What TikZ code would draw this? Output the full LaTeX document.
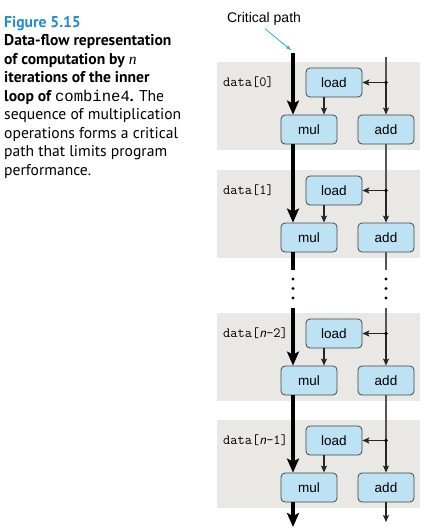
\documentclass[tikz,border=0pt]{standalone}
\usepackage{fontspec}
\setmainfont{Liberation Sans}
\newfontfamily\capfont{PT Sans}
\newfontfamily\codefont{Liberation Mono}
\newfontfamily\serifit{Liberation Serif}
\usetikzlibrary{arrows.meta}
\definecolor{figblue}{RGB}{30,140,205}
\definecolor{cpcyan}{RGB}{40,170,225}
\definecolor{boxfill}{RGB}{188,226,243}
\definecolor{boxline}{RGB}{70,70,70}
\definecolor{panelgray}{RGB}{234,232,229}
\definecolor{thingray}{RGB}{85,85,85}
\newcommand\iterblock[3]{%
  \fill[panelgray] (217,#2) rectangle (420,#2+88);
  \node[opbox] (load#1) at (334,#2+20.5) {load};
  \node[opbox] (mul#1) at (309,#2+67.5) {mul};
  \node[opbox] (add#1) at (386,#2+67.5) {add};
  \coordinate (dot#1) at (386,#2+20.5);
  \node[datalabel] (data#1) at (223,#2+24) {#3};
}
\begin{document}
\begin{tikzpicture}[x=1pt,y=-1pt,
  opbox/.style={draw=boxline, fill=boxfill, line width=0.8pt, rounded corners=4pt,
    minimum width=56pt, minimum height=29pt, inner sep=0pt,
    font=\fontsize{13.5}{16}\selectfont},
  datalabel/.style={anchor=base west, inner sep=0pt, font=\ttfamily\fontsize{14}{16}\selectfont},
  critline/.style={line width=3.6pt, draw=black},
  crit/.style={critline, -{Stealth[length=14pt,width=12pt,inset=3pt]}},
  thinline/.style={line width=1.1pt, draw=thingray},
  thinarr/.style={line width=1.1pt, draw=black!85, -{Stealth[length=7pt,width=6pt,inset=1.5pt]}},
  junction/.style={fill=black, circle, inner sep=0pt, minimum size=3.6pt},
  ]
\useasboundingbox (0,0) rectangle (434,528);

% caption
\node[anchor=north west, align=left, inner sep=0pt,
  font=\capfont\fontsize{15.6}{18.5}\selectfont] (caption) at (4,16)
 {{\color{figblue}\bfseries Figure 5.15}\\
  \bfseries Data-flow representation\\
  \bfseries of computation by {\serifit\itshape\mdseries n}\\
  \bfseries iterations of the inner\\
  \bfseries loop of {\codefont\mdseries combine4}. \mdseries The\\
  sequence of multiplication\\
  operations forms a critical\\
  path that limits program\\
  performance.};

\iterblock{0}{62}{data[0]}
\iterblock{1}{170}{data[1]}
\iterblock{2}{313}{data[{\sffamily\itshape n}-2]}
\iterblock{3}{420}{data[{\sffamily\itshape n}-1]}

% critical path label
\node[inner sep=0pt, font=\fontsize{14}{16}\selectfont] (cplabel) at (264,19) {Critical path};
\coordinate (cptip) at (291,50);
\draw[cpcyan, line width=0.8pt, -{Stealth[length=6pt,width=4pt]}] ([xshift=1pt,yshift=-3pt]cplabel.south) -- (cptip);

% critical path (thick)
\coordinate (cp0) at (293,53);
\coordinate (cpA) at (293,270);
\coordinate (cpB) at (293,308);
\coordinate (cpEnd) at (293,527);
\draw[crit] (cp0) -- (cp0 |- mul0.north);
\draw[crit] (cp0 |- mul0.south) -- (cp0 |- mul1.north);
\draw[critline] (cp0 |- mul1.south) -- (cpA);
\draw[crit] (cpB) -- (cp0 |- mul2.north);
\draw[crit] (cp0 |- mul2.south) -- (cp0 |- mul3.north);
\draw[crit] (cp0 |- mul3.south) -- (cpEnd);
\foreach \yy in {279,288.5,298} \fill (293,\yy) circle (1.6pt);

% add chain (thin)
\coordinate (t0) at (386,57);
\coordinate (tA) at (386,270);
\coordinate (tB) at (386,308);
\coordinate (tEnd) at (386,522);
\draw[thinline] (t0) -- (dot0);
\draw[thinline] (add0.south) -- (dot1);
\draw[thinline] (add1.south) -- (tA);
\draw[thinline] (tB) -- (dot2);
\draw[thinline] (add2.south) -- (dot3);
\draw[thinarr] (add3.south) -- (tEnd);
\foreach \yy in {279,288.5,298} \fill (386,\yy) circle (1.6pt);

\foreach \i in {0,1,2,3}{
  \draw[thinarr] (dot\i) -- (add\i.north);
  \draw[thinarr] (dot\i) -- (load\i.east);
  \draw[thinarr] ([xshift=-10pt]load\i.south) -- ([xshift=-10pt]load\i.south |- mul\i.north);
  \node[junction] (j\i) at (dot\i) {};
}
\end{tikzpicture}
\end{document}
